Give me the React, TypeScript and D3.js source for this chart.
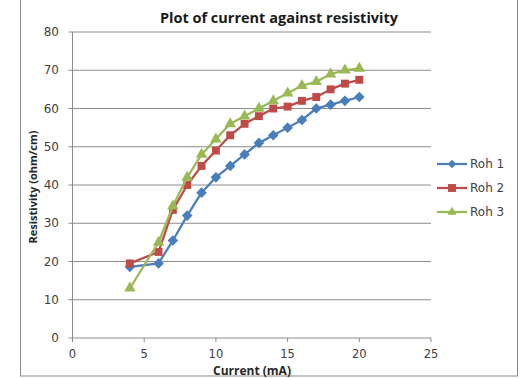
import React from "react";
import * as d3 from "d3";

const current = [4, 6, 7, 8, 9, 10, 11, 12, 13, 14, 15, 16, 17, 18, 19, 20];
const roh1 = [18.6, 19.5, 25.5, 32, 38, 42, 45, 48, 51, 53, 55, 57, 60, 61, 62, 63];
const roh2 = [19.5, 22.5, 33.5, 40, 45, 49, 53, 56, 58, 60, 60.5, 62, 63, 65, 66.5, 67.5];
const roh3 = [13, 25, 34.5, 42, 48, 52, 56, 58, 60, 62, 64, 66, 67, 69, 70, 70.5];
const xTicks = [0, 5, 10, 15, 20, 25];
const yTicks = [0, 10, 20, 30, 40, 50, 60, 70, 80];

const seriesList = [
  { name: "Roh 1", values: roh1, color: "#4A7EBB", marker: "diamond" },
  { name: "Roh 2", values: roh2, color: "#BE4B48", marker: "square" },
  { name: "Roh 3", values: roh3, color: "#98B954", marker: "triangle" },
];

const W = 521;
const H = 378;
const left = 72.5;
const right = 431;
const top = 32;
const bottom = 338;

function markerPath(kind: string, size: number) {
  const sym =
    kind === "diamond" ? d3.symbolDiamond2 : kind === "square" ? d3.symbolSquare2 : d3.symbolTriangle2;
  return d3.symbol().type(sym).size(size)()!;
}

const markerSize: Record<string, number> = { diamond: 72, square: 80, triangle: 95 };
const legendMarkerSize: Record<string, number> = { diamond: 45, square: 80, triangle: 60 };

export default function App() {
  const x = d3.scaleLinear().domain([0, 25]).range([left, right]);
  const y = d3.scaleLinear().domain([0, 80]).range([bottom, top]);
  const line = d3
    .line<[number, number]>()
    .x((d) => x(d[0]))
    .y((d) => y(d[1]));
  const tickFont = "'DejaVu Sans', Verdana, sans-serif";
  const boldFont = "'Open Sans', 'Liberation Sans', sans-serif";

  return (
    <svg
      width={W}
      height={H}
      style={{ position: "absolute", left: 0, top: 0, background: "#fff" }}
    >
      {/* chart frame */}
      <rect x={20.5} y={-1} width={497} height={377} fill="#fff" stroke="#8a8a8a" strokeWidth={1} />

      {/* gridlines */}
      {yTicks.slice(1).map((t) => (
        <line key={t} x1={left} x2={right} y1={y(t)} y2={y(t)} stroke="#8c8c8c" strokeWidth={1} />
      ))}

      {/* axes */}
      <line x1={left} x2={left} y1={top} y2={bottom} stroke="#8c8c8c" />
      <line x1={left} x2={right} y1={bottom} y2={bottom} stroke="#8c8c8c" />
      {yTicks.map((t) => (
        <g key={"y" + t}>
          <line x1={left - 4} x2={left} y1={y(t)} y2={y(t)} stroke="#8c8c8c" />
          <text
            x={59}
            y={y(t)}
            dy="0.35em"
            textAnchor="end"
            fontFamily={tickFont}
            fontSize={12}
            fill="#404040"
          >
            {t}
          </text>
        </g>
      ))}
      {xTicks.map((t) => (
        <g key={"x" + t}>
          <line x1={x(t)} x2={x(t)} y1={bottom} y2={bottom + 4} stroke="#8c8c8c" />
          <text
            x={x(t)}
            y={353.5}
            dy="0.35em"
            textAnchor="middle"
            fontFamily={tickFont}
            fontSize={11.5}
            fill="#404040"
          >
            {t}
          </text>
        </g>
      ))}

      {/* series */}
      {seriesList.map((s) => {
        const pts = current.map((c, i) => [c, s.values[i]] as [number, number]);
        return (
          <g key={s.name}>
            <path d={line(pts)!} fill="none" stroke={s.color} strokeWidth={2.25} strokeLinejoin="round" />
            {pts.map((p, i) => (
              <path
                key={i}
                d={markerPath(s.marker, markerSize[s.marker])}
                transform={`translate(${x(p[0])},${y(p[1])})`}
                fill={s.color}
              />
            ))}
          </g>
        );
      })}

      {/* titles */}
      <text
        x={279}
        y={18}
        dy="0.35em"
        textAnchor="middle"
        fontFamily={boldFont}
        fontWeight="bold"
        fontSize={14.5}
        fill="#1a1a1a"
      >
        Plot of current against resistivity
      </text>
      <text
        x={252}
        y={370.5}
        dy="0.35em"
        textAnchor="middle"
        fontFamily={boldFont}
        fontWeight="bold"
        fontSize={12}
        fill="#262626"
      >
        Current (mA)
      </text>
      <text
        transform={`translate(33,187) rotate(-90)`}
        dy="0.35em"
        textAnchor="middle"
        fontFamily={boldFont}
        fontWeight="bold"
        fontSize={11}
        fill="#262626"
      >
        Resistivity (ohm/cm)
      </text>

      {/* legend */}
      {seriesList.map((s, i) => {
        const ly = 164 + i * 24;
        return (
          <g key={"lg" + s.name}>
            <line x1={437} x2={467} y1={ly} y2={ly} stroke={s.color} strokeWidth={2.25} />
            <path
              d={markerPath(s.marker, legendMarkerSize[s.marker])}
              transform={`translate(452,${ly})`}
              fill={s.color}
            />
            <text x={470} y={ly} dy="0.35em" fontFamily={tickFont} fontSize={12} fill="#404040">
              {s.name}
            </text>
          </g>
        );
      })}
    </svg>
  );
}
